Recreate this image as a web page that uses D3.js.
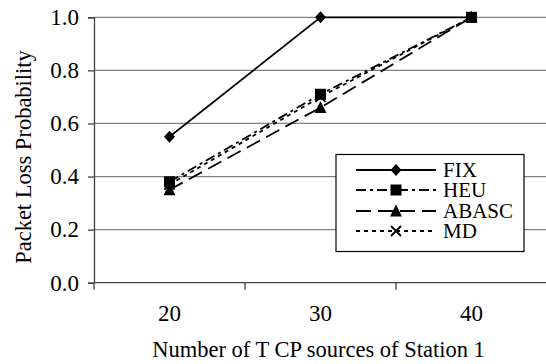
<!DOCTYPE html>
<html>
<head>
<meta charset="utf-8">
<title></title>
<style>
    body { margin: 0; background: white; }
    svg { display: block; }
    text { font-family: "Liberation Serif", "Times New Roman", Times, "DejaVu Serif", serif; }
</style>
</head>
<body>
<script src="https://cdnjs.cloudflare.com/ajax/libs/d3/7.8.5/d3.min.js"></script>
<script>

// values
var categories = ["20", "30", "40"];
var fix   = [0.55, 1.0, 1.0];
var heu   = [0.38, 0.71, 1.0];
var abasc = [0.35, 0.66, 1.0];
var md    = [0.37, 0.70, 1.0];
var yTicks = [0, 0.2, 0.4, 0.6, 0.8, 1.0];

var series = [
    { name: "FIX",   values: fix,   dash: null,           marker: "diamond" },
    { name: "HEU",   values: heu,   dash: "10,4,3,4",     marker: "square" },
    { name: "ABASC", values: abasc, dash: "15,7",         marker: "triangle" },
    { name: "MD",    values: md,    dash: "4,4",          marker: "cross" }
];

var W = 546, H = 364;
var plotLeft = 94, plotRight = 547, plotTop = 17.3, plotBottom = 282.7;
var serif = "'Liberation Serif', 'Times New Roman', Times, serif";

var svg = d3.select("body").append("svg")
    .attr("width", W)
    .attr("height", H)
    .attr("font-family", serif);

var x = d3.scaleBand().domain(categories).range([plotLeft, plotRight]);
var y = d3.scaleLinear().domain([0, 1]).range([plotBottom, plotTop]);

// gridlines
svg.append("g").selectAll("line").data(yTicks.filter(d => d > 0)).enter().append("line")
    .attr("x1", plotLeft).attr("x2", W)
    .attr("y1", d => y(d)).attr("y2", d => y(d))
    .attr("stroke", "#808080").attr("stroke-width", 1.2);

// y axis
var yAxis = svg.append("g")
    .attr("transform", "translate(" + plotLeft + ",0)")
    .call(d3.axisLeft(y).tickValues(yTicks).tickFormat(d3.format(".1f")).tickSize(6).tickPadding(9));
yAxis.attr("font-family", serif).attr("font-size", 23);
yAxis.select(".domain").attr("stroke", "#404040").attr("stroke-width", 1.3);
yAxis.selectAll(".tick line").attr("stroke", "#404040").attr("stroke-width", 1.3);
yAxis.selectAll("text").attr("fill", "black");

// x axis line and band boundary ticks
svg.append("line")
    .attr("x1", plotLeft).attr("x2", W)
    .attr("y1", plotBottom).attr("y2", plotBottom)
    .attr("stroke", "#404040").attr("stroke-width", 1.3);
var bounds = categories.map(c => x(c)).concat([x(categories[categories.length - 1]) + x.bandwidth()]);
svg.append("g").selectAll("line").data(bounds).enter().append("line")
    .attr("x1", d => d).attr("x2", d => d)
    .attr("y1", plotBottom).attr("y2", plotBottom + 7)
    .attr("stroke", "#404040").attr("stroke-width", 1.3);
svg.append("g").selectAll("text").data(categories).enter().append("text")
    .attr("x", d => x(d) + x.bandwidth() / 2)
    .attr("y", 321)
    .attr("text-anchor", "middle")
    .attr("font-size", 23)
    .text(d => d);

// axis titles
svg.append("text")
    .attr("x", 318.5).attr("y", 357)
    .attr("text-anchor", "middle")
    .attr("font-size", 22.5)
    .text("Number of T CP sources of Station 1");
svg.append("text")
    .attr("transform", "translate(31,157) rotate(-90)")
    .attr("text-anchor", "middle")
    .attr("font-size", 22.5)
    .text("Packet Loss Probability");

// markers
function markerPath(type) {
    if (type === "diamond") return "M0,-6L5.5,0L0,6L-5.5,0Z";
    if (type === "square") return "M-5.5,-5.5H5.5V5.5H-5.5Z";
    if (type === "triangle") return "M0,-6.5L6,5.5H-6Z";
    return "M-5,-5L5,5M5,-5L-5,5";
}
function drawMarker(g, type, cx, cy) {
    var p = g.append("path")
        .attr("transform", "translate(" + cx + "," + cy + ")")
        .attr("d", markerPath(type));
    if (type === "cross") p.attr("fill", "none").attr("stroke", "black").attr("stroke-width", 1.8);
    else p.attr("fill", "black");
}

var line = d3.line()
    .x((d, i) => x(categories[i]) + x.bandwidth() / 2)
    .y(d => y(d));

var plot = svg.append("g");
// draw in reverse so FIX is on top
series.slice().reverse().forEach(function (s) {
    plot.append("path")
        .datum(s.values)
        .attr("d", line)
        .attr("fill", "none")
        .attr("stroke", "black")
        .attr("stroke-width", 1.8)
        .attr("stroke-dasharray", s.dash);
    s.values.forEach(function (v, i) {
        drawMarker(plot, s.marker, x(categories[i]) + x.bandwidth() / 2, y(v));
    });
});

// legend
var lg = svg.append("g");
lg.append("rect")
    .attr("x", 336).attr("y", 154.5)
    .attr("width", 188).attr("height", 97)
    .attr("fill", "white").attr("stroke", "black").attr("stroke-width", 1.2);
var rowY = [170, 190, 211, 231];
series.forEach(function (s, i) {
    lg.append("line")
        .attr("x1", 356).attr("x2", 436)
        .attr("y1", rowY[i]).attr("y2", rowY[i])
        .attr("stroke", "black").attr("stroke-width", 1.8)
        .attr("stroke-dasharray", s.dash);
    drawMarker(lg, s.marker, 396, rowY[i]);
    lg.append("text")
        .attr("x", 443).attr("y", rowY[i] + 7)
        .attr("font-size", 21)
        .text(s.name);
});

</script>
</body>
</html>
